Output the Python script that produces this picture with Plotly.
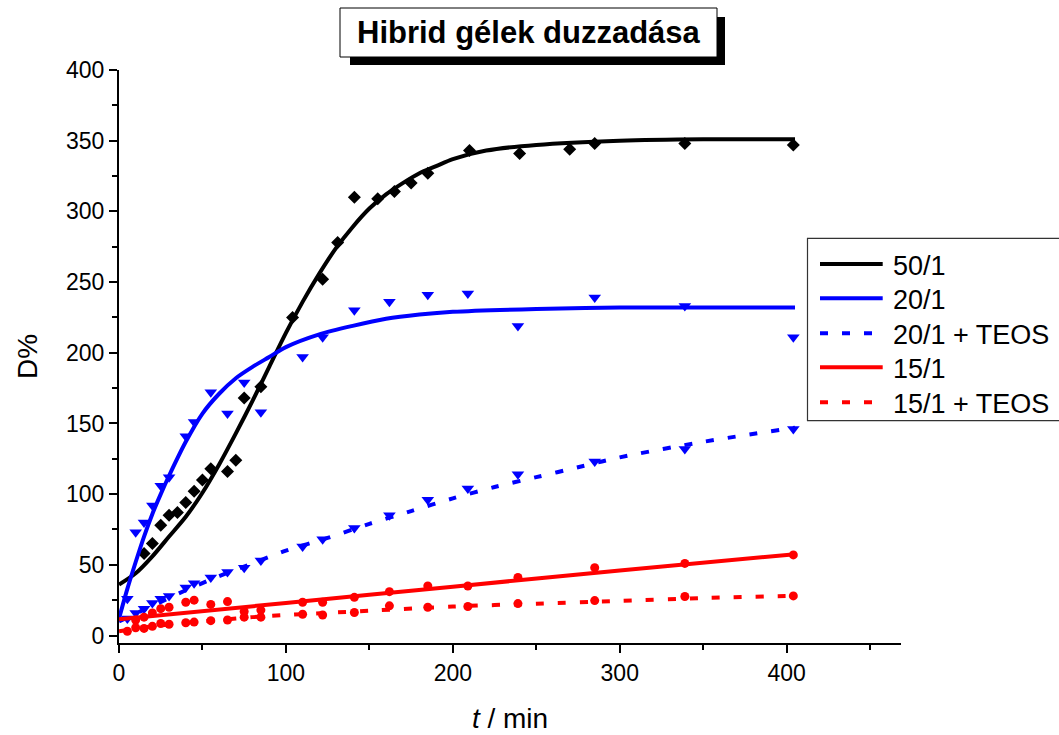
import plotly.graph_objects as go

# ---------------- data ----------------
# 50/1 measured points
t_50 = [15, 20, 25, 30, 35, 40, 45, 50, 55, 65, 70, 75, 85, 104, 122, 131, 141, 155, 165, 175, 185, 210, 240, 270, 285, 339, 404]
d_50 = [58, 65, 78, 85, 87, 94, 102, 110, 118, 116, 124, 168, 176, 225, 252, 278, 310, 309, 314, 320, 327, 343, 341, 344, 348, 348, 347]
# 50/1 fitted curve
tfit_50 = [0, 10, 20, 30, 40, 50, 60, 70, 80, 90, 100, 110, 120, 130, 140, 150, 160, 170, 180, 190, 200, 220, 250, 300, 350, 405]
dfit_50 = [36, 44, 56, 70, 84, 101, 121, 143, 166, 190, 214, 236, 256, 274, 289, 302, 312, 320, 327, 332, 337, 343, 347, 350, 351, 351]

# 20/1 measured points
t_20 = [5, 10, 15, 20, 25, 30, 40, 45, 55, 65, 75, 85, 110, 122, 141, 162, 185, 209, 239, 285, 339, 404]
d_20 = [26, 73, 80, 92, 106, 112, 141, 151, 172, 157, 179, 158, 197, 211, 230, 236, 241, 242, 219, 239, 233, 211]
tfit_20 = [0, 5, 10, 15, 20, 25, 30, 40, 50, 60, 70, 80, 90, 100, 120, 140, 160, 180, 200, 250, 300, 405]
dfit_20 = [12, 33, 52, 70, 86, 100, 113, 137, 157, 171, 182, 190, 197, 204, 213, 219, 224, 227, 229, 231, 232, 232]

# 20/1 + TEOS measured points
t_20T = [5, 10, 15, 20, 25, 30, 40, 45, 55, 65, 75, 85, 110, 122, 141, 162, 185, 209, 239, 285, 339, 404]
d_20T = [12, 16, 19, 23, 26, 28, 34, 37, 41, 45, 48, 53, 63, 68, 76, 85, 96, 104, 114, 123, 132, 146]
tfit_20T = [0, 20, 40, 60, 80, 100, 125, 150, 175, 200, 225, 250, 275, 300, 350, 405]
dfit_20T = [10, 21, 32, 42, 51, 60, 69, 79, 88, 97, 105, 112, 119, 126, 137, 147]

# 15/1 measured points
t_15 = [10, 15, 20, 25, 30, 40, 45, 55, 65, 75, 85, 110, 122, 141, 162, 185, 209, 239, 285, 339, 404]
d_15 = [11, 13, 16, 19, 20, 23.5, 25, 22, 24, 17, 18, 23.5, 23.5, 27, 31, 35, 35, 41, 48, 51, 57]
tfit_15 = [0, 100, 200, 300, 405]
dfit_15 = [11.5, 23, 34.5, 46, 57.5]

# 15/1 + TEOS measured points
t_15T = [5, 10, 15, 20, 25, 30, 40, 45, 55, 65, 75, 85, 110, 122, 141, 162, 185, 209, 239, 285, 339, 404]
d_15T = [3, 5.5, 5, 6.5, 8.5, 8, 9, 9.5, 10.5, 11, 13, 13, 15, 14.5, 16.3, 21, 20, 20.5, 22.6, 24.7, 27.6, 28]
tfit_15T = [0, 20, 40, 60, 80, 100, 125, 150, 200, 250, 300, 350, 405]
dfit_15T = [3, 6.5, 9, 11, 13, 14.5, 16, 17.5, 20.5, 22.5, 24.5, 26.5, 28]

legend_names = ["50/1", "20/1", "20/1 + TEOS", "15/1", "15/1 + TEOS"]
title_text = "Hibrid gélek duzzadása"

# ---------------- styling ----------------
BLACK, BLUE, RED = "#000000", "#0000FF", "#FF0000"
FONT = "Liberation Sans, Arial, sans-serif"
DASH = "8px,14px"
LW = 4

series = [
    (t_50, d_50, tfit_50, dfit_50, BLACK, "diamond", 10, "solid"),
    (t_20, d_20, tfit_20, dfit_20, BLUE, "triangle-down", 11, "solid"),
    (t_20T, d_20T, tfit_20T, dfit_20T, BLUE, "triangle-down", 11, DASH),
    (t_15, d_15, tfit_15, dfit_15, RED, "circle", 9, "solid"),
    (t_15T, d_15T, tfit_15T, dfit_15T, RED, "circle", 9, DASH),
]

fig = go.Figure()
for (tx, dy, tf, df, col, sym, msz, dash), name in zip(series, legend_names):
    fig.add_trace(go.Scatter(x=tx, y=dy, mode="markers", name=name + " (mért)",
                             marker=dict(symbol=sym, size=msz, color=col, line=dict(width=0)),
                             showlegend=False))
for (tx, dy, tf, df, col, sym, msz, dash), name in zip(series, legend_names):
    fig.add_trace(go.Scatter(x=tf, y=df, mode="lines", name=name,
                             line=dict(color=col, width=LW, dash=dash, shape="spline", smoothing=0.8),
                             showlegend=False))

# ---------------- layout ----------------
L, R, T, B = 119, 158, 70, 92
W, H = 1059, 735
pw, ph = W - L - R, H - T - B


def px(x):
    return (x - L) / pw


def py(y):
    return (H - B - y) / ph


shapes = []
# title box with shadow
shapes.append(dict(type="rect", xref="paper", yref="paper",
                   x0=px(350), x1=px(725), y0=py(65), y1=py(17),
                   fillcolor="black", line=dict(width=0), layer="above"))
shapes.append(dict(type="rect", xref="paper", yref="paper",
                   x0=px(340), x1=px(717), y0=py(57), y1=py(8),
                   fillcolor="white", line=dict(color="black", width=1), layer="above"))
# legend box
shapes.append(dict(type="rect", xref="paper", yref="paper",
                   x0=px(807.5), x1=px(1075), y0=py(420.7), y1=py(238.3),
                   fillcolor="white", line=dict(color="#333333", width=1.2), layer="above"))
annotations = []
rows = [264, 298.3, 333.3, 367.3, 402.3]
for (tx, dy, tf, df, col, sym, msz, dash), name, ry in zip(series, legend_names, rows):
    shapes.append(dict(type="line", xref="paper", yref="paper",
                       x0=px(820), x1=px(882.7), y0=py(ry), y1=py(ry),
                       line=dict(color=col, width=LW, dash=dash), layer="above"))
    annotations.append(dict(xref="paper", yref="paper", x=px(890.5), y=py(ry + 1.5),
                            xanchor="left", yanchor="middle", text=name, showarrow=False,
                            font=dict(family=FONT, size=27, color="black")))

annotations.append(dict(xref="paper", yref="paper", x=px(528.5), y=py(32.5),
                        xanchor="center", yanchor="middle", text="<b>" + title_text + "</b>",
                        showarrow=False, font=dict(family=FONT, size=31, color="black")))

axis_common = dict(showline=True, linecolor="black", linewidth=2, showgrid=False, zeroline=False,
                   ticks="outside", ticklen=8, tickwidth=2, tickcolor="black",
                   tickfont=dict(family=FONT, size=23, color="black"), automargin=False,
                   mirror=False)

fig.update_layout(
    template="none",
    width=W, height=H,
    margin=dict(l=L, r=R, t=T, b=B, pad=0),
    paper_bgcolor="white", plot_bgcolor="white",
    shapes=shapes, annotations=annotations,
    showlegend=False,
    xaxis=dict(range=[0, 468.5], tickvals=[0, 100, 200, 300, 400],
               minor=dict(tickvals=[50, 150, 250, 350, 450], ticklen=5, tickwidth=2, tickcolor="black", ticks="outside"),
               title=dict(text="<i>t</i> / min", font=dict(family=FONT, size=28, color="black"), standoff=24),
               **axis_common),
    yaxis=dict(range=[-5.3, 400], tickvals=[0, 50, 100, 150, 200, 250, 300, 350, 400],
               minor=dict(tickvals=[25, 75, 125, 175, 225, 275, 325, 375], ticklen=5, tickwidth=2, tickcolor="black", ticks="outside"),
               title=dict(text="D%", font=dict(family=FONT, size=28, color="black"), standoff=20),
               **axis_common),
)

fig.write_html("out.html")
